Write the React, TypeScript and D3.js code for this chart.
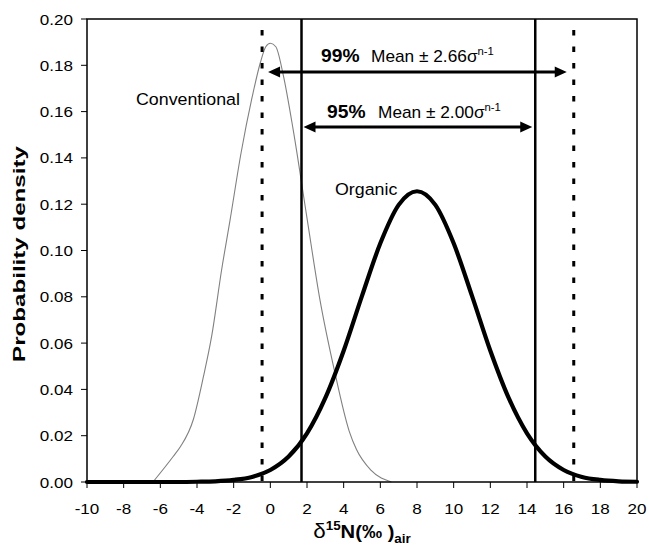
import React from "react";
import * as d3 from "d3";

const xTickValues = [-10, -8, -6, -4, -2, 0, 2, 4, 6, 8, 10, 12, 14, 16, 18, 20];
const yTickValues = [0, 0.02, 0.04, 0.06, 0.08, 0.1, 0.12, 0.14, 0.16, 0.18, 0.2];

const organicX = [-10, -9, -8, -7, -6, -5, -4, -3, -2, -1, 0, 1, 2, 3, 4, 5, 6, 7, 8, 9, 10, 11, 12, 13, 14, 15, 16, 17, 18, 19, 20];
const organicY = [0, 0, 0, 0, 0, 0, 0.0001, 0.0003, 0.0009, 0.0022, 0.0052, 0.011, 0.021, 0.0363, 0.0567, 0.0804, 0.1031, 0.1197, 0.1256, 0.1197, 0.1031, 0.0804, 0.0567, 0.0363, 0.021, 0.011, 0.0052, 0.0022, 0.0009, 0.0003, 0.0001];

const conventionalX = [-6.4, -5.3, -4.9, -4.2, -3.65, -3.2, -2.65, -2.2, -1.6, -1.0, -0.55, -0.25, 0.0, 0.3, 0.7, 1.25, 2.0, 2.7, 3.5, 4.3, 4.7, 5.5, 6.6];
const conventionalY = [0, 0.011, 0.0153, 0.027, 0.0455, 0.063, 0.092, 0.113, 0.142, 0.166, 0.181, 0.188, 0.1895, 0.188, 0.176, 0.152, 0.114, 0.079, 0.048, 0.022, 0.014, 0.005, 0];

const interval99 = [-0.45, 16.55];
const interval95 = [1.7, 14.45];

const W = 649;
const H = 552;
const margin = { left: 87, right: 12, top: 19, bottom: 70 };
const FONT = "'Liberation Sans', Arial, Helvetica, sans-serif";

function T({ x, y, sx = 1.1, rotate = 0, children, ...props }: any) {
  return (
    <g transform={`translate(${x},${y}) rotate(${rotate}) scale(${sx},1)`}>
      <text fontFamily={FONT} {...props}>
        {children}
      </text>
    </g>
  );
}

function Arrow({ x1, x2, y }: { x1: number; x2: number; y: number }) {
  const L = 12;
  const hw = 5.5;
  return (
    <g>
      <line x1={x1 + L - 1} x2={x2 - L + 1} y1={y} y2={y} stroke="#000" strokeWidth={3} />
      <polygon points={`${x1},${y} ${x1 + L},${y - hw} ${x1 + L},${y + hw}`} fill="#000" />
      <polygon points={`${x2},${y} ${x2 - L},${y - hw} ${x2 - L},${y + hw}`} fill="#000" />
    </g>
  );
}

export default function App() {
  const x = d3.scaleLinear().domain([-10, 20]).range([margin.left, W - margin.right]);
  const y = d3.scaleLinear().domain([0, 0.2]).range([H - margin.bottom, margin.top]);

  const organic = organicX.map((v, i) => [v, organicY[i]] as [number, number]);
  const conventional = conventionalX.map((v, i) => [v, conventionalY[i]] as [number, number]);

  const line = d3
    .line<[number, number]>()
    .x((d) => x(d[0]))
    .y((d) => y(d[1]))
    .curve(d3.curveMonotoneX);

  const x0 = x(-10);
  const x1 = x(20);
  const yTop = y(0.2);
  const yBot = y(0);
  const fmt = d3.format(".2f");

  return (
    <svg
      width={W}
      height={H}
      style={{ position: "absolute", left: 0, top: 0, background: "#fff" }}
    >
      <rect x={0} y={0} width={W} height={H} fill="#fff" />

      {/* conventional curve */}
      <path d={line(conventional) || ""} fill="none" stroke="#808080" strokeWidth={1.1} />

      {/* interval lines */}
      {interval99.map((v, i) => (
        <line
          key={"d" + i}
          x1={x(v)}
          x2={x(v)}
          y1={yTop}
          y2={yBot}
          stroke="#000"
          strokeWidth={3}
          strokeDasharray="5.5 11"
          strokeDashoffset={-11}
        />
      ))}
      {interval95.map((v, i) => (
        <line key={"s" + i} x1={x(v)} x2={x(v)} y1={yTop} y2={yBot} stroke="#000" strokeWidth={2.5} />
      ))}

      {/* organic curve */}
      <path
        d={line(organic) || ""}
        fill="none"
        stroke="#000"
        strokeWidth={4.2}
        strokeLinejoin="round"
        strokeLinecap="round"
      />

      {/* frame */}
      <rect x={x0} y={yTop} width={x1 - x0} height={yBot - yTop} fill="none" stroke="#000" strokeWidth={1.5} />

      {/* y ticks */}
      {yTickValues.map((v) => (
        <g key={"yt" + v}>
          <line x1={x0 - 6} x2={x0} y1={y(v)} y2={y(v)} stroke="#000" strokeWidth={1} />
          <T x={73} y={y(v) + 5.5} fontSize={15.5} textAnchor="end" fill="#000">
            {fmt(v)}
          </T>
        </g>
      ))}

      {/* x ticks */}
      {xTickValues.map((v) => (
        <g key={"xt" + v}>
          <line x1={x(v)} x2={x(v)} y1={yBot} y2={yBot + 6} stroke="#000" strokeWidth={1} />
          <T x={x(v)} y={514} fontSize={15.5} textAnchor="middle" fill="#000">
            {v}
          </T>
        </g>
      ))}

      {/* arrows */}
      <Arrow x1={x(interval99[0]) + 6} x2={x(interval99[1]) - 7} y={72} />
      <Arrow x1={x(interval95[0]) + 2} x2={x(interval95[1]) - 3} y={127} />

      {/* annotation texts */}
      <T x={321} y={62} fontSize={17.5} fontWeight="bold" sx={1.1}>
        99%
      </T>
      <T x={371} y={62} fontSize={16} sx={1.08}>
        Mean ± 2.66σ<tspan fontSize={10.5} dy={-7}>n-1</tspan>
      </T>
      <T x={327} y={118} fontSize={17.5} fontWeight="bold" sx={1.1}>
        95%
      </T>
      <T x={378} y={118} fontSize={16} sx={1.08}>
        Mean ± 2.00σ<tspan fontSize={10.5} dy={-7}>n-1</tspan>
      </T>

      <T x={136} y={105} fontSize={16.5} sx={1.08}>
        Conventional
      </T>
      <T x={335} y={195} fontSize={16.5} sx={1.08}>
        Organic
      </T>

      {/* axis titles */}
      <T x={25} y={254} rotate={-90} sx={1.42} fontSize={17} fontWeight="bold" textAnchor="middle">
        Probability density
      </T>
      <T x={(x0 + x1) / 2} y={538} sx={1.12} fontSize={18} textAnchor="middle">
        <tspan fontSize={20}>δ</tspan>
        <tspan fontWeight="bold" fontSize={12} dy={-8}>15</tspan>
        <tspan fontWeight="bold" fontSize={18} dy={8}>N(‰ )</tspan>
        <tspan fontWeight="bold" fontSize={12} dy={5}>air</tspan>
      </T>
    </svg>
  );
}
